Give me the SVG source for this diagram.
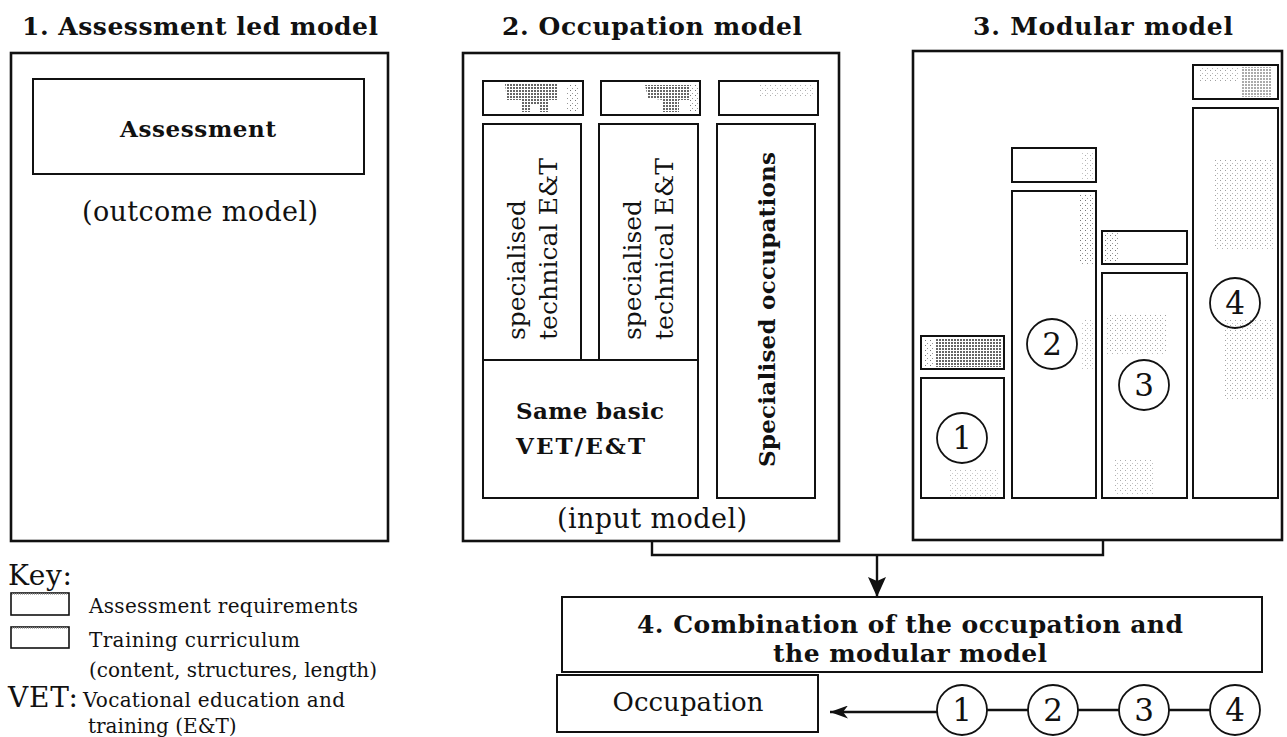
<svg xmlns="http://www.w3.org/2000/svg" width="1287" height="737" viewBox="0 0 1287 737">
  <style>
    text { font-family: "DejaVu Serif", "Liberation Serif", serif; fill: #111; }
    .title { font-size: 25px; font-weight: bold; text-anchor: middle; }
    .bold { font-size: 23px; font-weight: bold; }
    .reg { font-size: 25px; }
    .label { font-size: 27px; text-anchor: middle; }
    .key { font-size: 20px; }
    .num { font-size: 31px; text-anchor: middle; }
    .frame { fill: #fff; stroke: #111; stroke-width: 2.6; }
    .box { fill: #fff; stroke: #111; stroke-width: 2; }
    .thin { fill: none; stroke: #111; stroke-width: 1.8; }
    .wire { fill: none; stroke: #111; stroke-width: 2.4; }
  </style>
  <defs>
    <pattern id="htDark" width="3" height="3" patternUnits="userSpaceOnUse">
      <rect width="3" height="3" fill="#fff"/>
      <rect width="2" height="2" fill="#666"/>
    </pattern>
    <pattern id="htLight" width="5" height="5" patternUnits="userSpaceOnUse">
      <rect x="0" y="0" width="1" height="1" fill="#777"/>
      <rect x="2" y="3" width="1" height="1" fill="#999"/>
    </pattern>
    <marker id="head" viewBox="0 0 20 18" refX="20" refY="9" markerWidth="20" markerHeight="18" markerUnits="userSpaceOnUse" orient="auto">
      <path d="M0,0 L20,9 L0,18 L4,9 Z" fill="#111"/>
    </marker>
    <marker id="headSmall" viewBox="0 0 18 13" refX="18" refY="6.5" markerWidth="18" markerHeight="13" markerUnits="userSpaceOnUse" orient="auto">
      <path d="M0,0 L18,6.5 L0,13 L5,6.5 Z" fill="#111"/>
    </marker>
  </defs>

  <rect width="1287" height="737" fill="#fff"/>

  <!-- 1. Assessment led model -->
  <g id="assessment-model">
    <text class="title" x="200" y="35" textLength="356">1. Assessment led model</text>
    <rect class="frame" x="11" y="53" width="377" height="488"/>
    <g id="assessment-box">
      <rect class="box" x="33" y="79" width="331" height="95"/>
      <text class="bold" x="198" y="137" text-anchor="middle" textLength="156">Assessment</text>
    </g>
    <text class="label" x="200" y="221" textLength="236">(outcome model)</text>
  </g>

  <!-- 2. Occupation model -->
  <g id="occupation-model">
    <text class="title" x="652" y="35" textLength="300">2. Occupation model</text>
    <rect class="frame" x="463" y="53" width="376" height="488"/>

    <g id="occ-assessment-1">
      <rect class="box" x="483" y="81" width="100" height="34"/>
      <path d="M505,84 L558,84 L558,100 L549,100 L549,112 L539,112 L539,104 L531,104 L531,112 L521,112 L521,100 L507,100 Z" fill="url(#htDark)"/>
      <rect x="566" y="84" width="14" height="28" fill="url(#htLight)"/>
    </g>
    <g id="occ-assessment-2">
      <rect class="box" x="601" y="81" width="99" height="34"/>
      <path d="M645,85 L690,85 L690,100 L679,100 L679,112 L663,112 L663,100 L648,98 Z" fill="url(#htDark)"/>
      <rect x="690" y="84" width="8" height="28" fill="url(#htLight)"/>
    </g>
    <g id="occ-assessment-3">
      <rect class="box" x="719" y="81" width="99" height="34"/>
      <rect x="760" y="84" width="55" height="14" fill="url(#htLight)" opacity="0.6"/>
    </g>

    <g id="technical-1">
      <rect class="box" x="483" y="124" width="98" height="236"/>
      <text class="reg" transform="translate(525,340) rotate(-90)" textLength="140">specialised</text>
      <text class="reg" transform="translate(557,340) rotate(-90)" textLength="182">technical E&amp;T</text>
    </g>
    <g id="technical-2">
      <rect class="box" x="599" y="124" width="99" height="236"/>
      <text class="reg" transform="translate(641,340) rotate(-90)" textLength="140">specialised</text>
      <text class="reg" transform="translate(673,340) rotate(-90)" textLength="182">technical E&amp;T</text>
    </g>
    <g id="basic-vet">
      <rect class="box" x="483" y="360" width="215" height="138"/>
      <text class="bold" x="516" y="419" textLength="148">Same basic</text>
      <text class="bold" x="516" y="454" textLength="129">VET/E&amp;T</text>
    </g>
    <g id="specialised-occupations">
      <rect class="box" x="717" y="124" width="98" height="374"/>
      <text class="bold" transform="translate(775,467) rotate(-90)" textLength="315">Specialised occupations</text>
    </g>
    <text class="label" x="652" y="528" textLength="190">(input model)</text>
  </g>

  <!-- 3. Modular model -->
  <g id="modular-model">
    <text class="title" x="1103" y="35" textLength="260">3. Modular model</text>
    <rect class="frame" x="913" y="51" width="369" height="489"/>

    <g id="module-1">
      <rect class="box" x="921" y="336" width="83" height="33"/>
      <rect x="936" y="338" width="66" height="29" fill="url(#htDark)"/>
      <rect x="923" y="340" width="12" height="26" fill="url(#htLight)"/>
      <rect class="box" x="921" y="378" width="83" height="120"/>
      <rect x="950" y="470" width="50" height="26" fill="url(#htLight)" opacity="0.5"/>
      <circle class="thin" cx="962" cy="438" r="25"/>
      <text class="num" x="962" y="449">1</text>
    </g>
    <g id="module-2">
      <rect class="box" x="1012" y="148" width="84" height="34"/>
      <rect x="1082" y="151" width="12" height="28" fill="url(#htLight)" opacity="0.6"/>
      <rect class="box" x="1012" y="191" width="84" height="307"/>
      <rect x="1080" y="195" width="14" height="70" fill="url(#htLight)"/>
      <rect x="1082" y="320" width="12" height="50" fill="url(#htLight)" opacity="0.6"/>
      <circle class="thin" cx="1052" cy="344" r="25"/>
      <text class="num" x="1052" y="355">2</text>
    </g>
    <g id="module-3">
      <rect class="box" x="1102" y="231" width="85" height="33"/>
      <rect x="1104" y="233" width="14" height="29" fill="url(#htLight)"/>
      <rect class="box" x="1102" y="273" width="85" height="225"/>
      <rect x="1106" y="315" width="60" height="40" fill="url(#htLight)" opacity="0.7"/>
      <rect x="1115" y="460" width="40" height="35" fill="url(#htLight)" opacity="0.6"/>
      <circle class="thin" cx="1144" cy="385" r="25"/>
      <text class="num" x="1144" y="396">3</text>
    </g>
    <g id="module-4">
      <rect class="box" x="1193" y="65" width="85" height="34"/>
      <rect x="1242" y="67" width="30" height="30" fill="url(#htDark)" opacity="0.55"/>
      <rect x="1198" y="67" width="40" height="16" fill="url(#htLight)" opacity="0.7"/>
      <rect class="box" x="1193" y="108" width="85" height="390"/>
      <rect x="1215" y="160" width="58" height="90" fill="url(#htLight)" opacity="0.7"/>
      <rect x="1225" y="320" width="50" height="80" fill="url(#htLight)" opacity="0.7"/>
      <circle class="thin" cx="1235" cy="303" r="25"/>
      <text class="num" x="1235" y="314">4</text>
    </g>
  </g>

  <!-- 4. Combination of the occupation and the modular model -->
  <g id="combination">
    <rect class="box" x="562" y="597" width="700" height="75"/>
    <text class="title" x="910" y="633" textLength="546">4. Combination of the occupation and</text>
    <text class="title" x="910" y="662" textLength="274">the modular model</text>
  </g>

  <g id="occupation">
    <rect class="box" x="557" y="675" width="261" height="57"/>
    <text class="label" x="688" y="711" style="font-size:26px" textLength="151">Occupation</text>
  </g>

  <g id="sequence">
    <circle class="thin" cx="962" cy="710" r="25"/>
    <text class="num" x="962" y="721">1</text>
    <circle class="thin" cx="1053" cy="710" r="25"/>
    <text class="num" x="1053" y="721">2</text>
    <circle class="thin" cx="1144" cy="710" r="25"/>
    <text class="num" x="1144" y="721">3</text>
    <circle class="thin" cx="1235" cy="710" r="25"/>
    <text class="num" x="1235" y="721">4</text>
  </g>

  <!-- Connectors -->
  <g id="connectors">
    <path class="wire" d="M652,541 V555 H1103 V540"/>
    <line class="wire" x1="877" y1="555" x2="877" y2="597" marker-end="url(#head)"/>
    <line class="wire" x1="937" y1="712" x2="830" y2="712" marker-end="url(#headSmall)"/>
    <line class="wire" x1="987" y1="710" x2="1028" y2="710"/>
    <line class="wire" x1="1078" y1="710" x2="1119" y2="710"/>
    <line class="wire" x1="1169" y1="710" x2="1210" y2="710"/>
  </g>

  <!-- Key -->
  <g id="key">
    <text x="8" y="585" style="font-size:28px" textLength="64">Key:</text>
    <rect x="11" y="593" width="58" height="22" fill="#fff" stroke="#111" stroke-width="1.6"/>
    <line x1="12" y1="594" x2="68" y2="594" stroke="#999" stroke-width="1.5" stroke-dasharray="1 1"/>
    <text class="key" x="89" y="613" textLength="269">Assessment requirements</text>
    <rect x="11" y="627" width="58" height="21" fill="#fff" stroke="#111" stroke-width="1.6"/>
    <line x1="12" y1="628" x2="68" y2="628" stroke="#999" stroke-width="1.5" stroke-dasharray="1 1"/>
    <text class="key" x="89" y="647" textLength="211">Training curriculum</text>
    <text class="key" x="89" y="677" textLength="288">(content, structures, length)</text>
    <text x="8" y="707" style="font-size:28px" textLength="70">VET:</text>
    <text class="key" x="83" y="707" textLength="262">Vocational education and</text>
    <text class="key" x="88" y="733">training (E&amp;T)</text>
  </g>
</svg>
